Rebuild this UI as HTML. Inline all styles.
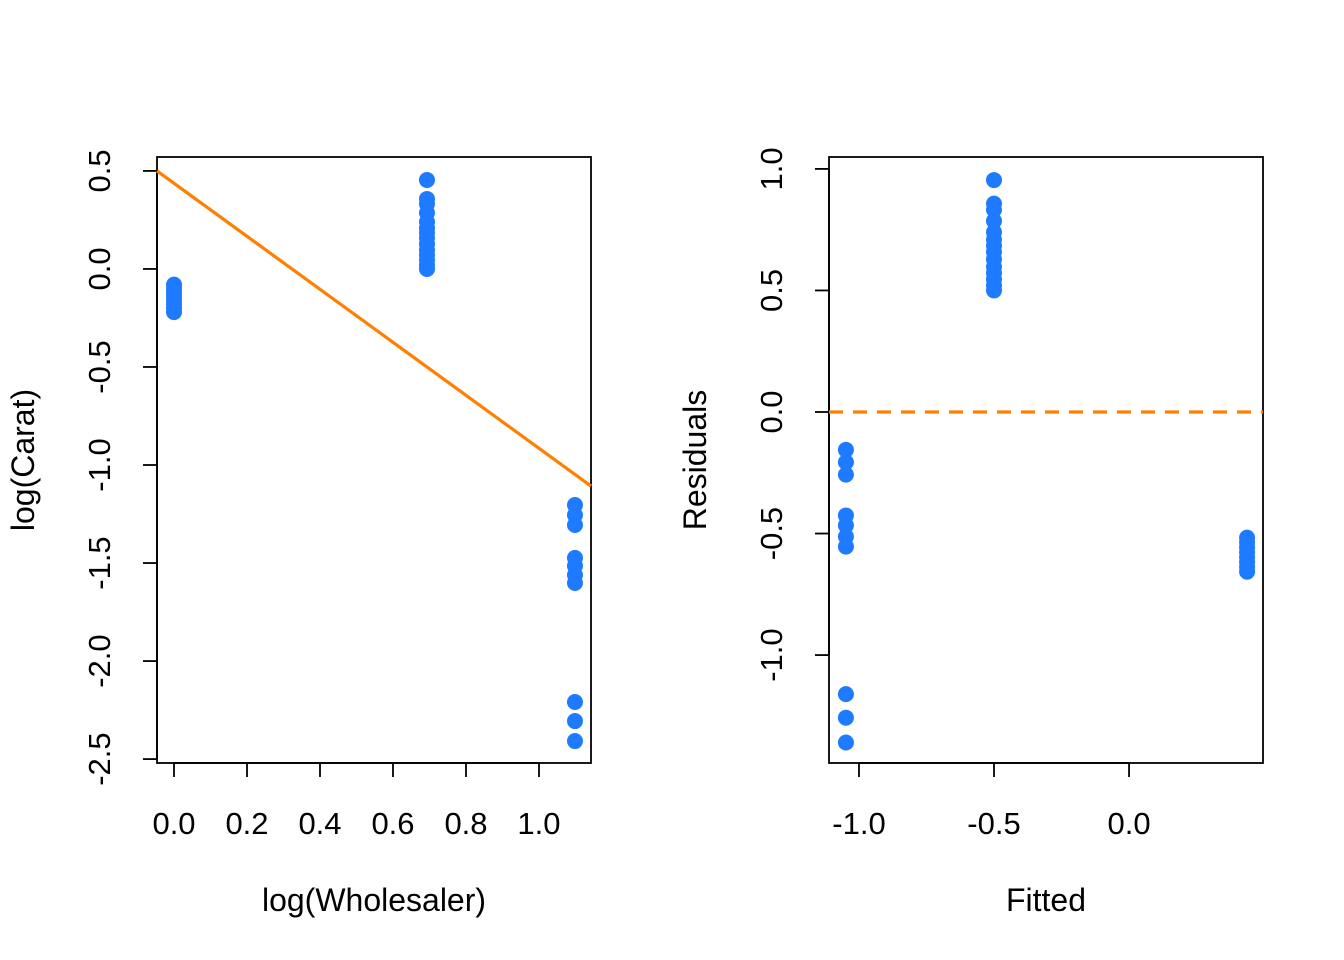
<!DOCTYPE html>
<html><head><meta charset="utf-8"><style>
html,body{margin:0;padding:0;background:#fff}
svg{display:block;font-family:"Liberation Sans",Arial,sans-serif}
</style></head><body>
<svg id="c" width="1344" height="960"></svg>
<script>
const groupX = [0, 0.6931, 1.0986];
const groupYs = [
  [-0.08,-0.10,-0.12,-0.14,-0.16,-0.18,-0.20,-0.22],
  [0.454,0.357,0.332,0.286,0.240,0.209,0.184,0.158,0.128,0.097,0.071,0.046,0.020,0.0],
  [-1.204,-1.255,-1.306,-1.474,-1.515,-1.561,-1.602,-2.209,-2.306,-2.408]
];
const fitIntercept = 0.437;
const fitSlope = -1.352;
const leftXTicks = [0.0,0.2,0.4,0.6,0.8,1.0];
const leftYTicks = [0.5,0.0,-0.5,-1.0,-1.5,-2.0,-2.5];
const rightXTicks = [-1.0,-0.5,0.0];
const rightYTicks = [1.0,0.5,0.0,-0.5,-1.0];

const svg = document.getElementById('c');
const NS = 'http://www.w3.org/2000/svg';
function mk(tag, attrs, parent){const e=document.createElementNS(NS,tag);for(const k in attrs)e.setAttribute(k,attrs[k]);(parent||svg).appendChild(e);return e;}
function lin(d0,d1,r0,r1){return v=>r0+(v-d0)*(r1-r0)/(d1-d0);}

function panel(name, box, xdom, ydom, xt, yt, xlab, ylab, pts, drawExtra){
  const g = mk('g',{});
  
  
  const sx = lin(xdom[0],xdom[1],box.x0,box.x1), sy = lin(ydom[0],ydom[1],box.y1,box.y0);
  const r = mk('rect',{x:box.x0,y:box.y0,width:box.x1-box.x0,height:box.y1-box.y0,fill:'none',stroke:'#000','stroke-width':1.8},g);
  
  
  const xa = mk('g',{},g);
  
  
  mk('line',{x1:sx(xt[0]),x2:sx(xt[xt.length-1]),y1:box.y1,y2:box.y1,stroke:'#000','stroke-width':1.8},xa);
  xt.forEach(v=>{
    mk('line',{x1:sx(v),x2:sx(v),y1:box.y1,y2:box.y1+14,stroke:'#000','stroke-width':1.8},xa);
    const t = mk('text',{x:sx(v),y:834,'text-anchor':'middle','font-size':31},xa);
    t.textContent = v.toFixed(1);
    
    
  });
  const ya = mk('g',{},g);
  
  
  mk('line',{x1:box.x0,x2:box.x0,y1:sy(yt[0]),y2:sy(yt[yt.length-1]),stroke:'#000','stroke-width':1.8},ya);
  yt.forEach(v=>{
    mk('line',{x1:box.x0-14,x2:box.x0,y1:sy(v),y2:sy(v),stroke:'#000','stroke-width':1.8},ya);
    const tx = box.x0-47;
    const t = mk('text',{x:tx,y:sy(v),'text-anchor':'middle','font-size':31,transform:`rotate(-90 ${tx} ${sy(v)})`},ya);
    t.textContent = v.toFixed(1);
    
    
  });
  const xl = mk('text',{x:(box.x0+box.x1)/2,y:911,'text-anchor':'middle','font-size':32},g);
  xl.textContent = xlab;
  
  
  const yx = box.x0-123, yy=(box.y0+box.y1)/2;
  const yl = mk('text',{x:yx,y:yy,'text-anchor':'middle','font-size':32,transform:`rotate(-90 ${yx} ${yy})`},g);
  yl.textContent = ylab;
  
  
  drawExtra(g,sx,sy);
  pts.forEach(p=>{
    const c = mk('circle',{cx:sx(p[0]),cy:sy(p[1]),r:8,fill:'#1e7bff'},g);
    
    
  });
}

const leftPts=[], rightPts=[];
groupX.forEach((x,i)=>groupYs[i].forEach(y=>{
  leftPts.push([x,y]);
  const f = fitIntercept + fitSlope*x;
  rightPts.push([f, y-f]);
}));

const LB={x0:157,x1:591,y0:157,y1:763};
panel('left-scatter-panel',LB,[-0.0466,1.1425],[-2.520,0.571],leftXTicks,leftYTicks,'log(Wholesaler)','log(Carat)',leftPts,(g,sx,sy)=>{
  const xa=-0.0466, xb=1.1425;
  const l = mk('line',{x1:sx(xa),y1:sy(fitIntercept+fitSlope*xa),x2:sx(xb),y2:sy(fitIntercept+fitSlope*xb),stroke:'#ff7f00','stroke-width':3.2},g);
  
  
});
const RB={x0:829,x1:1263,y0:157,y1:763};
panel('residual-panel',RB,[-1.111,0.496],[-1.444,1.049],rightXTicks,rightYTicks,'Fitted','Residuals',rightPts,(g,sx,sy)=>{
  const l = mk('line',{x1:RB.x0,y1:sy(0),x2:RB.x1,y2:sy(0),stroke:'#ff7f00','stroke-width':3.2,'stroke-dasharray':'14 10'},g);
  
  
});
</script>
</body></html>
